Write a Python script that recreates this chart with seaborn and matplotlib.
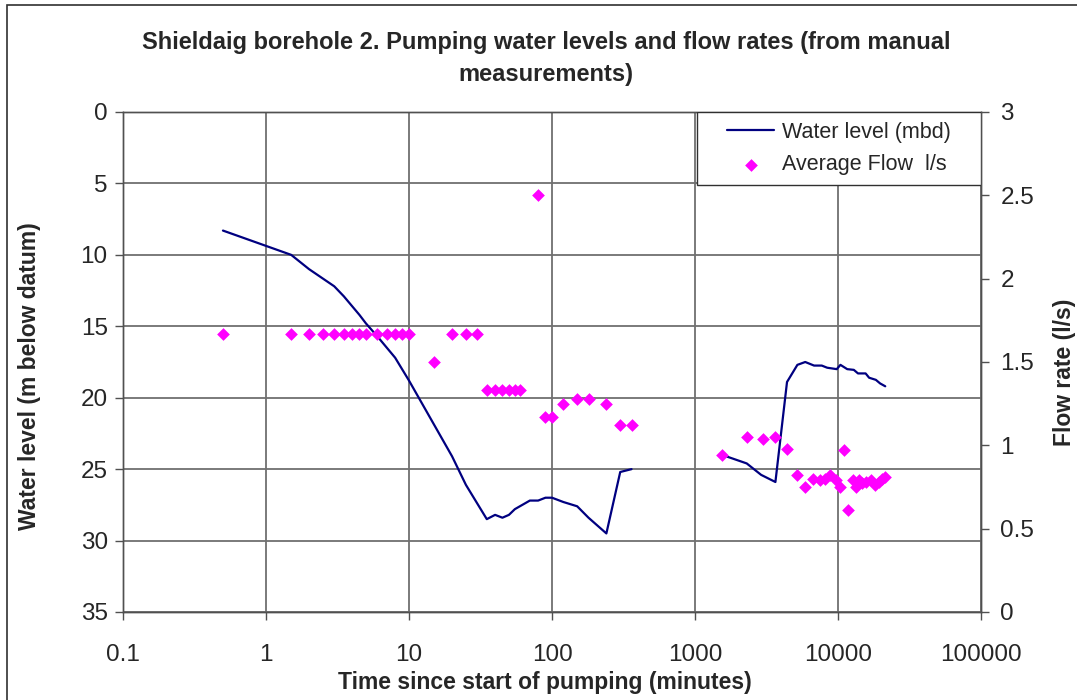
import numpy as np
import seaborn as sns
import matplotlib.pyplot as plt
from matplotlib.ticker import FixedLocator, FuncFormatter, NullLocator
from matplotlib.patches import Rectangle

# Water level (m below datum), first pumping period
wl_time_a = [0.5, 1.5, 2, 3, 3.5, 4.5, 5, 6, 8, 10, 20, 25, 35, 40, 45, 50, 55,
             70, 80, 90, 100, 120, 150, 180, 240, 300, 360]
wl_a = [8.3, 10.0, 11.0, 12.2, 12.9, 14.2, 14.8, 15.7, 17.2, 18.8, 24.1, 26.1, 28.5,
        28.2, 28.4, 28.2, 27.8, 27.2, 27.2, 27.0, 27.0, 27.3, 27.6, 28.4, 29.5, 25.2, 25.0]

# Water level, second pumping period
wl_time_b = [1650, 2300, 2900, 3650, 4400, 5200, 5900, 6800, 7700, 8400, 9800, 10400,
             11600, 12900, 13800, 15600, 16500, 18400, 19700, 21400]
wl_b = [24.1, 24.6, 25.4, 25.9, 18.9, 17.7, 17.5, 17.75, 17.75, 17.9, 18.0, 17.7,
        18.0, 18.05, 18.3, 18.3, 18.6, 18.75, 19.0, 19.2]

# Average flow (l/s)
flow_time = [0.5, 1.5, 2, 2.5, 3, 3.5, 4, 4.5, 5, 6, 7, 8, 9, 10, 15, 20, 25, 30,
             35, 40, 45, 50, 55, 60, 80, 90, 100, 120, 150, 180, 240, 300, 360,
             1550, 2300, 3000, 3630, 4400, 5150, 5900, 6700, 7450, 8100, 8800, 9700,
             10400, 10950, 11800, 12700, 13400, 14000, 14800, 15800, 16900, 18200,
             19200, 20200, 21400]
flow = [1.67, 1.67, 1.67, 1.67, 1.67, 1.67, 1.67, 1.67, 1.67, 1.67, 1.67, 1.67, 1.67,
        1.67, 1.50, 1.67, 1.67, 1.67, 1.33, 1.33, 1.33, 1.33, 1.33, 1.33, 2.50, 1.17,
        1.17, 1.25, 1.28, 1.28, 1.25, 1.12, 1.12,
        0.94, 1.05, 1.04, 1.05, 0.98, 0.82, 0.75, 0.80, 0.79, 0.80, 0.82, 0.79,
        0.75, 0.97, 0.61, 0.79, 0.75, 0.79, 0.775, 0.78, 0.79, 0.76, 0.78, 0.80, 0.81]

x_ticks = [0.1, 1, 10, 100, 1000, 10000, 100000]

sns.set_style("white")
plt.rcParams['font.family'] = ['Liberation Sans', 'DejaVu Sans']

W, H = 1077, 700
fig = plt.figure(figsize=(W / 100, H / 100), dpi=100)
ax = fig.add_axes([123 / W, 88 / H, 858 / W, 500 / H])
ax.set_xscale('log')
ax2 = ax.twinx()

sns.lineplot(x=wl_time_a, y=wl_a, ax=ax, color='#000080', lw=1.6,
             estimator=None, label='Water level (mbd)')
sns.lineplot(x=wl_time_b, y=wl_b, ax=ax, color='#000080', lw=1.6,
             estimator=None)
sns.scatterplot(x=flow_time, y=flow, ax=ax2, marker='D', color='#FF00FF', s=42,
                linewidth=0, label='Average Flow  l/s', zorder=3)

# axes ranges and ticks
ax.set_xlim(0.1, 100000)
ax.set_ylim(35, 0)
ax2.set_ylim(0, 3)
ax.xaxis.set_major_locator(FixedLocator(x_ticks))
ax.xaxis.set_minor_locator(NullLocator())
ax.xaxis.set_major_formatter(FuncFormatter(lambda v, p: '%g' % v))
ax.set_yticks(np.arange(0, 36, 5))
ax2.set_yticks(np.arange(0, 3.01, 0.5))
ax2.yaxis.set_major_formatter(FuncFormatter(lambda v, p: '%g' % v))

ax.grid(True, color='#707070', lw=1.3)
ax.set_axisbelow(True)
for a in (ax, ax2):
    for s in a.spines.values():
        s.set_color('#505050')
        s.set_linewidth(1.0)
ax.tick_params(axis='y', direction='out', length=6, width=1, color='#505050',
               labelsize=17.5, pad=5, left=True)
ax.tick_params(axis='x', direction='out', length=6, width=1, color='#505050',
               labelsize=17.5, pad=17, bottom=True)
ax2.tick_params(axis='y', direction='out', length=6, width=1, color='#505050',
                labelsize=17.5, pad=8, right=True)
ax.set_xlabel('')
ax.set_ylabel('')
ax2.set_ylabel('')

# titles and axis labels
fig.text(546 / W, 1 - 58 / H,
         'Shieldaig borehole 2. Pumping water levels and flow rates (from manual\nmeasurements)',
         ha='center', va='center', fontsize=17, fontweight='bold', linespacing=1.5)
fig.text(545 / W, 1 - 683 / H, 'Time since start of pumping (minutes)',
         ha='center', va='center', fontsize=16.5, fontweight='bold')
fig.text(30 / W, 1 - 376 / H, 'Water level (m below datum)', rotation=90,
         ha='center', va='center', fontsize=16.5, fontweight='bold')
fig.text(1064 / W, 1 - 372 / H, 'Flow rate (l/s)', rotation=90,
         ha='center', va='center', fontsize=16.5, fontweight='bold')

# combined legend in a white box at the top right
ax.get_legend().remove()
ax2.get_legend().remove()
h1, l1 = ax.get_legend_handles_labels()
h2, l2 = ax2.get_legend_handles_labels()
box = (574 / 858, 427 / 500, 284 / 858, 73 / 500)
ax2.add_patch(Rectangle(box[:2], box[2], box[3], transform=ax2.transAxes,
                        facecolor='white', edgecolor='#303030', lw=1.0, zorder=4))
leg = ax2.legend(h1 + h2, l1 + l2, loc='center', bbox_to_anchor=box,
                 borderaxespad=0, borderpad=0, fontsize=15.5, frameon=False,
                 handlelength=2.2, handletextpad=0.35, labelspacing=0.55,
                 markerscale=1.0)
leg.set_zorder(5)

# outer chart border
fig.patches.append(Rectangle((7 / W, -0.02), 1.1, 1 - 5 / H + 0.02,
                             transform=fig.transFigure, fill=False,
                             edgecolor='#303030', lw=1.2))

plt.savefig('out.png', dpi=100)
